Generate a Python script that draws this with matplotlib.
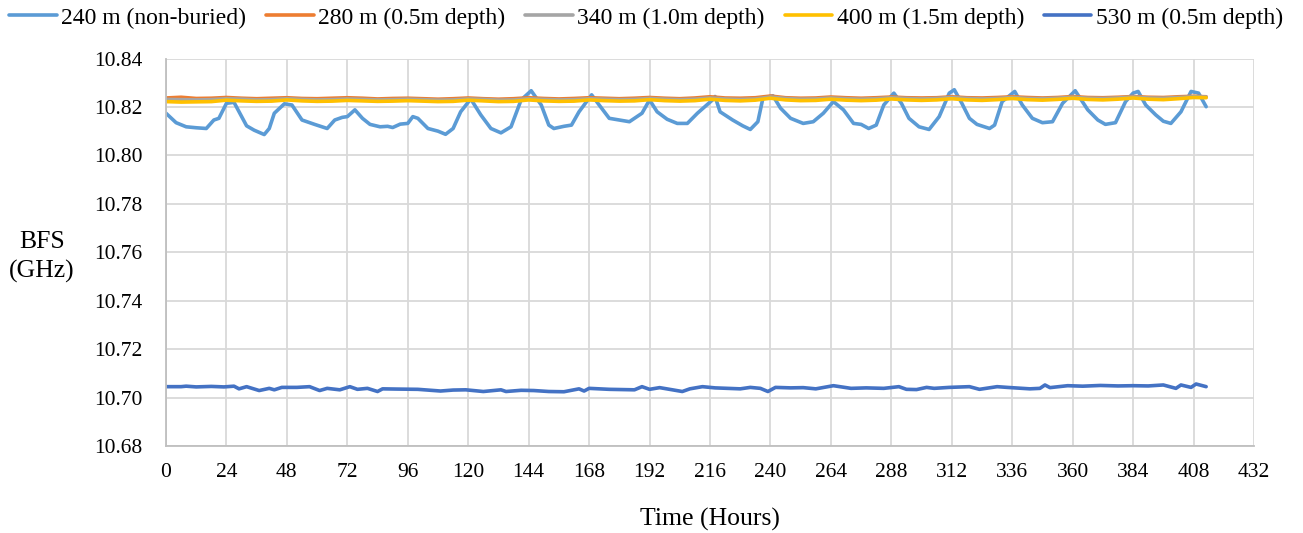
import numpy as np
import matplotlib.pyplot as plt

plt.rcParams["font.family"] = ["Liberation Serif", "DejaVu Serif"]

# 240 m (non-buried) - vertices of the daily cycle
hours_240 = [0, 4, 8, 12, 16, 19, 21, 24, 27, 32, 35, 39, 41, 43, 47, 50, 54, 59,
             64, 67, 70, 72, 75, 78, 81, 85, 88, 90, 93, 96, 98, 100, 104, 108, 111,
             114, 117, 121, 125, 129, 133, 137, 141, 145, 149, 152, 154, 158, 161,
             164, 169, 172, 176, 180, 184, 189, 192, 195, 199, 203, 207, 211, 217,
             218, 220, 225, 229, 232, 235, 237, 241, 244, 248, 253, 257, 261, 265,
             269, 273, 276, 279, 282, 285, 289, 292, 295, 299, 303, 307, 311, 313,
             316, 319, 322, 327, 329, 332, 337, 340, 344, 348, 352, 356, 361, 366,
             370, 373, 377, 381, 384, 386, 389, 393, 396, 399, 403, 407, 410, 413]
bfs_240 = [10.8174, 10.8135, 10.8118, 10.8114, 10.8111, 10.8146, 10.8153, 10.8215,
           10.8219, 10.8122, 10.8104, 10.8086, 10.8111, 10.8174, 10.8213, 10.8208,
           10.8146, 10.8128, 10.8111, 10.8146, 10.8157, 10.8160, 10.8188, 10.8153,
           10.8128, 10.8118, 10.8120, 10.8115, 10.8129, 10.8132, 10.8160, 10.8153,
           10.8111, 10.8100, 10.8087, 10.8111, 10.8180, 10.8233, 10.8167, 10.8111,
           10.8093, 10.8118, 10.8229, 10.8267, 10.8208, 10.8125, 10.8111, 10.8120,
           10.8125, 10.8180, 10.8250, 10.8208, 10.8153, 10.8146, 10.8139, 10.8174,
           10.8229, 10.8180, 10.8149, 10.8132, 10.8132, 10.8174, 10.8229, 10.8243,
           10.8180, 10.8146, 10.8122, 10.8107, 10.8139, 10.8236, 10.8246, 10.8195,
           10.8153, 10.8132, 10.8139, 10.8174, 10.8222, 10.8188, 10.8132, 10.8128,
           10.8111, 10.8125, 10.8208, 10.8257, 10.8215, 10.8153, 10.8118, 10.8107,
           10.8160, 10.8257, 10.8271, 10.8215, 10.8153, 10.8128, 10.8111, 10.8125,
           10.8222, 10.8264, 10.8208, 10.8153, 10.8135, 10.8139, 10.8215, 10.8267,
           10.8188, 10.8146, 10.8128, 10.8135, 10.8222, 10.8257, 10.8264, 10.8208,
           10.8167, 10.8141, 10.8132, 10.8180, 10.8264, 10.8257, 10.8201]

# buried sections, sampled every 6 h
hours_flat = list(range(0, 409, 6)) + [413]
bfs_400 = [10.8222, 10.8220, 10.8221, 10.8222, 10.8228, 10.8225, 10.8223, 10.8224,
           10.8229, 10.8225, 10.8223, 10.8224, 10.8227, 10.8225, 10.8223, 10.8224,
           10.8226, 10.8224, 10.8222, 10.8223, 10.8228, 10.8225, 10.8222, 10.8223,
           10.8229, 10.8225, 10.8223, 10.8224, 10.8229, 10.8226, 10.8224, 10.8225,
           10.8230, 10.8226, 10.8224, 10.8226, 10.8232, 10.8227, 10.8225, 10.8228,
           10.8236, 10.8229, 10.8226, 10.8227, 10.8232, 10.8228, 10.8226, 10.8228,
           10.8233, 10.8229, 10.8227, 10.8229, 10.8234, 10.8229, 10.8227, 10.8230,
           10.8235, 10.8230, 10.8228, 10.8231, 10.8236, 10.8231, 10.8229, 10.8232,
           10.8237, 10.8232, 10.8230, 10.8234, 10.8239, 10.8238]
bfs_340 = [10.8231, 10.8230, 10.8229, 10.8230, 10.8234, 10.8232, 10.8229, 10.8230,
           10.8234, 10.8231, 10.8229, 10.8230, 10.8233, 10.8231, 10.8229, 10.8230,
           10.8232, 10.8230, 10.8228, 10.8229, 10.8233, 10.8231, 10.8228, 10.8229,
           10.8234, 10.8231, 10.8229, 10.8230, 10.8234, 10.8232, 10.8230, 10.8231,
           10.8235, 10.8232, 10.8230, 10.8232, 10.8237, 10.8233, 10.8231, 10.8233,
           10.8241, 10.8235, 10.8232, 10.8233, 10.8237, 10.8234, 10.8232, 10.8234,
           10.8238, 10.8235, 10.8233, 10.8235, 10.8239, 10.8235, 10.8233, 10.8235,
           10.8239, 10.8235, 10.8234, 10.8236, 10.8240, 10.8236, 10.8235, 10.8237,
           10.8241, 10.8237, 10.8236, 10.8239, 10.8242, 10.8241]
bfs_280 = [10.8237, 10.8240, 10.8235, 10.8236, 10.8239, 10.8236, 10.8234, 10.8236,
           10.8238, 10.8235, 10.8234, 10.8236, 10.8238, 10.8236, 10.8233, 10.8235,
           10.8236, 10.8234, 10.8232, 10.8234, 10.8237, 10.8234, 10.8232, 10.8234,
           10.8238, 10.8235, 10.8233, 10.8235, 10.8238, 10.8236, 10.8234, 10.8236,
           10.8239, 10.8236, 10.8234, 10.8237, 10.8242, 10.8237, 10.8236, 10.8238,
           10.8245, 10.8238, 10.8236, 10.8237, 10.8241, 10.8238, 10.8236, 10.8238,
           10.8241, 10.8238, 10.8237, 10.8238, 10.8242, 10.8238, 10.8237, 10.8239,
           10.8242, 10.8239, 10.8237, 10.8239, 10.8243, 10.8239, 10.8238, 10.8240,
           10.8243, 10.8240, 10.8239, 10.8242, 10.8244, 10.8242]

# 530 m (0.5 m depth)
hours_530 = [0, 6, 8, 12, 18, 23, 27, 29, 32, 37, 41, 43, 46, 52, 57, 61, 64, 69,
             73, 76, 80, 84, 86, 92, 100, 109, 114, 119, 126, 133, 135, 141, 146,
             152, 158, 164, 166, 168, 176, 186, 189, 192, 196, 205, 208, 213, 218,
             223, 228, 232, 236, 239, 242, 248, 253, 258, 265, 272, 278, 285, 291,
             294, 298, 302, 305, 311, 319, 323, 330, 334, 343, 347, 349, 351, 358,
             364, 371, 378, 384, 390, 396, 401, 403, 407, 409, 413]
bfs_530 = [10.7045, 10.7045, 10.7047, 10.7044, 10.7046, 10.7044, 10.7047, 10.7036,
           10.7045, 10.7029, 10.7038, 10.7032, 10.7042, 10.7042, 10.7045, 10.7029,
           10.7038, 10.7032, 10.7045, 10.7034, 10.7038, 10.7025, 10.7036, 10.7035,
           10.7034, 10.7027, 10.7031, 10.7032, 10.7025, 10.7032, 10.7025, 10.7030,
           10.7029, 10.7025, 10.7024, 10.7036, 10.7027, 10.7038, 10.7034, 10.7032,
           10.7045, 10.7034, 10.7041, 10.7025, 10.7036, 10.7045, 10.7040, 10.7038,
           10.7036, 10.7042, 10.7038, 10.7025, 10.7042, 10.7040, 10.7041, 10.7036,
           10.7049, 10.7038, 10.7040, 10.7038, 10.7045, 10.7034, 10.7033, 10.7042,
           10.7038, 10.7042, 10.7045, 10.7034, 10.7045, 10.7042, 10.7036, 10.7038,
           10.7052, 10.7041, 10.7049, 10.7047, 10.7050, 10.7048, 10.7049, 10.7048,
           10.7052, 10.7038, 10.7052, 10.7042, 10.7056, 10.7045]

series = [
    (hours_240, bfs_240, "240 m (non-buried)", "#5B9BD5"),
    (hours_flat, bfs_280, "280 m (0.5m depth)", "#ED7D31"),
    (hours_flat, bfs_340, "340 m (1.0m depth)", "#A5A5A5"),
    (hours_flat, bfs_400, "400 m (1.5m depth)", "#FFC000"),
    (hours_530, bfs_530, "530 m (0.5m depth)", "#4472C4"),
]

fig = plt.figure(figsize=(13.03, 5.33), dpi=100)
ax = fig.add_axes([166 / 1303, 1 - 446 / 533, (1254 - 166) / 1303, (446 - 58.5) / 533])

for x, y, label, color in series:
    ax.plot(x, y, color=color, linewidth=2.6, label=label, solid_capstyle="round")

ax.set_xlim(0, 432)
ax.set_ylim(10.68, 10.84)
ax.set_xticks(np.arange(0, 433, 24))
ax.set_yticks(np.arange(10.68, 10.841, 0.02))
ax.yaxis.set_major_formatter(plt.FormatStrFormatter("%.2f"))
ax.tick_params(length=0, labelsize=15.5, colors="black")
ax.tick_params(axis="x", pad=12)
ax.tick_params(axis="y", pad=17)
ax.grid(True, color="#D9D9D9", linewidth=1.3)
ax.set_axisbelow(True)
for side in ("top", "right"):
    ax.spines[side].set_visible(False)
for side in ("left", "bottom"):
    ax.spines[side].set_color("#BFBFBF")
    ax.spines[side].set_linewidth(1.3)

ax.set_xlabel("Time (Hours)", fontsize=18.5, labelpad=19)
fig.text(42 / 1303, 1 - 257 / 533, "BFS\n(GHz)", fontsize=18.5, ha="center",
         va="center", linespacing=1.35)

fig.legend(loc="center", bbox_to_anchor=(0.496, 1 - 18 / 533), ncol=5,
           frameon=False, fontsize=17, handlelength=2.0, handletextpad=0.2,
           columnspacing=0.85)

fig.savefig("out.png", dpi=100)
